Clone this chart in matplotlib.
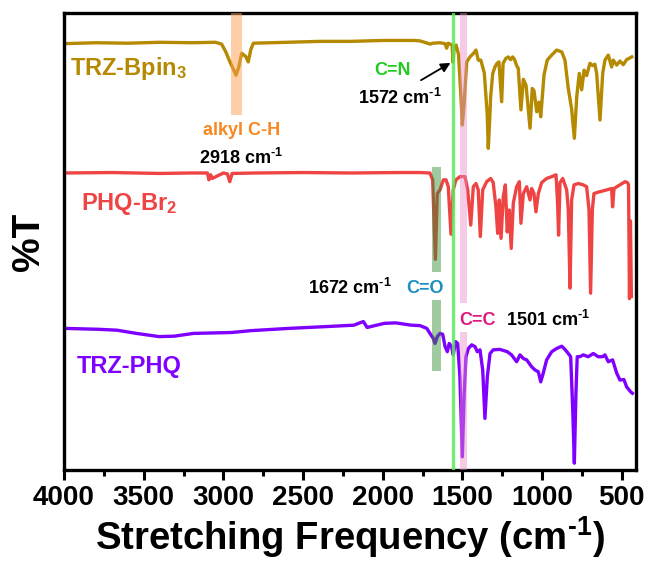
import numpy as np
import matplotlib
matplotlib.use("Agg")
from matplotlib import pyplot as plt
from matplotlib.ticker import MultipleLocator

plt.rcParams['font.family'] = ['Liberation Sans', 'DejaVu Sans']
plt.rcParams['font.weight'] = 'bold'
plt.rcParams['mathtext.fontset'] = 'custom'
plt.rcParams['mathtext.rm'] = 'Liberation Sans:bold'
plt.rcParams['mathtext.it'] = 'Liberation Sans:bold'
plt.rcParams['mathtext.bf'] = 'Liberation Sans:bold'

# spectra (wavenumber in cm-1, %T with stacking offset)
wn_bpin = [4000, 3800, 3600, 3400, 3200, 3050, 3011, 2985, 2959, 2935,
           2921, 2905, 2885, 2860, 2844, 2828, 2812, 2600, 2400, 2200,
           2000, 1800, 1766, 1720, 1704, 1685, 1640, 1610, 1599, 1590,
           1565, 1559, 1552, 1540, 1525, 1510, 1501, 1490, 1473, 1453,
           1430, 1415, 1401, 1385, 1363, 1345, 1338, 1330, 1323, 1310,
           1296, 1283, 1271, 1254, 1245, 1227, 1212, 1198, 1185, 1173,
           1160, 1150, 1133, 1118, 1101, 1076, 1062, 1051, 1034, 1020,
           1009, 988, 968, 940, 909, 877, 857, 836, 815, 798,
           783, 767, 752, 737, 721, 700, 683, 669, 658, 637,
           620, 606, 585, 564, 554, 532, 512, 491, 470, 438]
t_bpin = [93.3, 93.5, 93.4, 93.6, 93.5, 93.6, 93.2, 91.5, 89.3, 87.5,
          86.4, 88.0, 91.2, 90.5, 89.3, 92.0, 93.4, 93.6, 93.8, 93.8,
          94.0, 94.0, 93.9, 93.4, 93.2, 93.4, 93.5, 93.3, 92.3, 93.4,
          93.0, 89.2, 92.5, 93.0, 91.0, 82.0, 75.5, 80.0, 89.3, 90.4,
          91.2, 91.9, 89.7, 89.7, 86.9, 78.0, 70.4, 76.0, 81.7, 86.8,
          88.2, 89.0, 89.3, 80.6, 89.0, 90.1, 90.4, 89.8, 90.4, 89.8,
          88.5, 87.9, 78.8, 85.5, 84.2, 74.8, 83.5, 83.0, 78.4, 80.5,
          77.3, 86.5, 89.7, 90.8, 91.9, 91.5, 89.7, 83.5, 79.0, 72.6,
          81.7, 86.8, 83.2, 87.5, 86.3, 89.0, 88.5, 88.8, 86.8, 76.6,
          86.8, 89.7, 90.8, 88.2, 89.7, 88.6, 89.5, 88.7, 89.8, 90.4]

wn_phq = [4000, 3700, 3400, 3200, 3100, 3091, 3080, 3070, 3000, 2975,
          2960, 2945, 2800, 2500, 2200, 1900, 1766, 1704, 1687, 1670,
          1658, 1641, 1620, 1603, 1589, 1572, 1558, 1541, 1516, 1484,
          1467, 1448, 1432, 1415, 1401, 1388, 1373, 1348, 1323, 1307,
          1290, 1279, 1269, 1258, 1244, 1231, 1219, 1206, 1194, 1181,
          1160, 1143, 1133, 1118, 1097, 1076, 1066, 1051, 1039, 1024,
          1003, 972, 940, 913, 903, 897, 888, 871, 846, 836,
          825, 815, 800, 773, 742, 721, 706, 696, 685, 675,
          648, 595, 564, 558, 549, 512, 480, 466, 458, 452,
          446, 440]
t_phq = [65.0, 65.1, 64.9, 65.0, 65.0, 63.5, 64.6, 63.8, 65.0, 64.8,
         63.1, 64.9, 65.0, 65.1, 65.0, 65.1, 65.1, 65.0, 63.5, 46.1,
         60.5, 61.3, 63.5, 63.5, 62.0, 51.6, 61.3, 63.5, 64.2, 64.2,
         61.3, 53.6, 62.0, 62.7, 61.3, 51.1, 61.3, 63.1, 63.8, 62.9,
         57.6, 51.8, 59.1, 50.7, 59.8, 62.4, 52.1, 56.9, 48.5, 58.4,
         62.0, 63.1, 54.0, 60.5, 62.0, 59.1, 61.6, 60.5, 56.5, 60.5,
         62.9, 63.8, 64.2, 64.6, 58.4, 51.4, 62.9, 63.8, 61.3, 57.0,
         39.8, 59.1, 62.4, 62.7, 62.4, 62.0, 57.0, 38.7, 57.0, 60.5,
         60.8, 61.3, 61.6, 57.6, 61.6, 62.4, 63.1, 62.9, 62.5, 37.5,
         54.5, 38.0]

wn_trz = [4000, 3785, 3667, 3546, 3403, 3307, 3187, 2947, 2828, 2588,
          2349, 2181, 2122, 2098, 1990, 1918, 1822, 1766, 1724, 1704,
          1683, 1672, 1658, 1641, 1624, 1609, 1595, 1583, 1568, 1558,
          1543, 1530, 1516, 1501, 1489, 1478, 1463, 1442, 1421, 1407,
          1390, 1373, 1359, 1344, 1327, 1307, 1265, 1219, 1192, 1160,
          1139, 1118, 1097, 1066, 1045, 1024, 1009, 993, 972, 940,
          909, 877, 857, 836, 821, 808, 798, 788, 780, 763,
          742, 711, 679, 648, 620, 606, 585, 558, 532, 512,
          487, 470, 444, 434]
t_trz = [31.0, 30.8, 30.6, 29.9, 29.2, 29.3, 29.9, 30.1, 30.5, 31.0,
         31.4, 31.7, 32.5, 31.2, 32.1, 32.2, 31.7, 31.6, 31.0, 29.9,
         28.8, 27.7, 29.2, 29.9, 29.7, 27.0, 25.9, 27.7, 27.0, 25.2,
         28.1, 27.7, 20.4, 2.9, 16.8, 24.8, 26.6, 27.4, 27.0, 25.9,
         26.3, 21.9, 11.3, 20.4, 25.5, 26.3, 26.4, 25.9, 25.2, 23.7,
         25.2, 24.4, 24.1, 22.6, 21.9, 21.5, 19.3, 21.2, 24.1, 25.9,
         26.6, 27.1, 26.4, 25.5, 24.8, 13.1, 1.5, 16.8, 24.8, 24.8,
         25.2, 24.8, 25.5, 24.8, 24.8, 25.2, 23.7, 24.1, 21.2, 19.7,
         19.8, 18.2, 17.1, 16.8]

series_names = ['TRZ-Bpin$_3$', 'PHQ-Br$_2$', 'TRZ-PHQ']
series_colors = ['#B58900', '#EF4444', '#7F00FF']

# marked bands (cm-1)
alkyl_band = (2952, 2885)
cc_band = (1517, 1473)
co_band = (1693, 1637)
cn_line = 1558

inv_cm = r'cm$^{\text{-}1}$'

fig = plt.figure(figsize=(6.5, 5.67), dpi=100)
ax = fig.add_axes([0.0985, 0.171, 0.8795, 0.806])

ax.plot(wn_bpin, t_bpin, color=series_colors[0], lw=2.4, zorder=2)
ax.plot(wn_phq, t_phq, color=series_colors[1], lw=2.4, zorder=2)
ax.plot(wn_trz, t_trz, color=series_colors[2], lw=2.4, zorder=2)

# highlight bands drawn over the traces
ax.axvspan(*alkyl_band, ymin=0.777, ymax=1.0, color='#FF9F4F', alpha=0.5, lw=0, zorder=3)
ax.axvspan(*cc_band, ymin=0.365, ymax=1.0, color='#EC8CC8', alpha=0.45, lw=0, zorder=3)
ax.axvspan(*cc_band, ymin=0.0, ymax=0.303, color='#EC8CC8', alpha=0.45, lw=0, zorder=3)
ax.axvspan(*co_band, ymin=0.434, ymax=0.664, color='#2E8B2E', alpha=0.45, lw=0, zorder=3)
ax.axvspan(*co_band, ymin=0.217, ymax=0.372, color='#2E8B2E', alpha=0.45, lw=0, zorder=3)
ax.axvline(cn_line, color='#5BEA5B', lw=2.4, alpha=0.85, zorder=4)

# series labels
ax.text(3962, 86.4, series_names[0], color=series_colors[0], fontsize=17, fontweight='bold', va='baseline')
ax.text(3893, 56.9, series_names[1], color=series_colors[1], fontsize=17, fontweight='bold', va='baseline')
ax.text(3918, 21.3, series_names[2], color=series_colors[2], fontsize=17, fontweight='bold', va='baseline')

# peak annotations
kw = dict(fontsize=13, fontweight='bold', ha='center', va='center')
ax.text(2883, 74.4, 'alkyl C-H', color='#F7871F', **kw)
ax.text(2890, 68.3, '2918 ' + inv_cm, color='black', **kw)
ax.text(1936, 87.5, 'C=N', color='#1FCC1F', **kw)
ax.text(1892, 81.4, '1572 ' + inv_cm, color='black', **kw)
ax.annotate('', xy=(1560, 89.4), xytext=(1775, 85.0),
            arrowprops=dict(arrowstyle='-|>', color='black', lw=1.3, mutation_scale=14))
ax.text(2206, 39.8, '1672 ' + inv_cm, color='black', **kw)
ax.text(1735, 39.8, 'C=O', color='#1A8FC0', **kw)
ax.text(1403, 32.8, 'C=C', color='#E0197D', **kw)
ax.text(963, 32.8, '1501 ' + inv_cm, color='black', **kw)

ax.set_xlim(4000, 413)
ax.set_ylim(0, 100)
ax.set_yticks([])
ax.xaxis.set_major_locator(MultipleLocator(500))
ax.xaxis.set_minor_locator(MultipleLocator(250))
ax.tick_params(axis='x', which='major', direction='out', length=7, width=2.2,
               labelsize=20, pad=4)
ax.tick_params(axis='x', which='minor', direction='out', length=4, width=2.2)
for lab in ax.get_xticklabels():
    lab.set_fontweight('bold')
for sp in ax.spines.values():
    sp.set_linewidth(2.4)

ax.set_xlabel('Stretching Frequency (' + inv_cm + ')', fontsize=27.5, fontweight='bold', labelpad=2)
ax.set_ylabel('%T', fontsize=28, fontweight='bold', labelpad=12)

fig.savefig('out.png', dpi=100)
